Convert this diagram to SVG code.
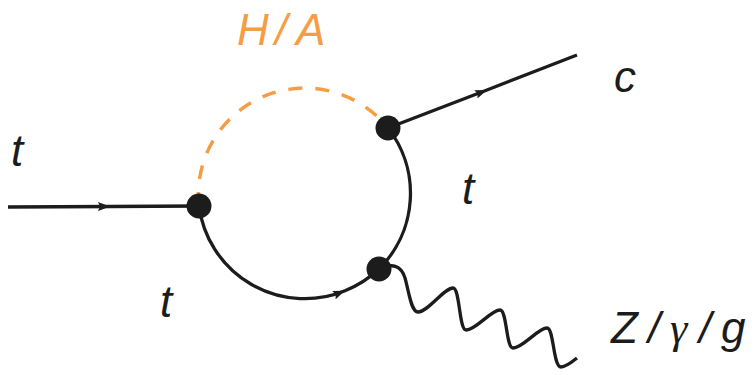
<svg xmlns="http://www.w3.org/2000/svg" width="755" height="375" viewBox="0 0 755 375">
  <style>
    .fermion { fill: none; stroke: #1c1c1c; stroke-width: 3.3; }
    .scalar { fill: none; stroke: #F59D45; stroke-width: 3.5; stroke-dasharray: 14 13; }
    .boson { fill: none; stroke: #1c1c1c; stroke-width: 3.3; stroke-linejoin: round; }
    .vertex { fill: #1c1c1c; }
    .lbl { font-family: "Liberation Sans", Arial, sans-serif; font-style: italic; font-size: 44px; fill: #1c1c1c; }
    .lbl-or { font-family: "Liberation Sans", Arial, sans-serif; font-style: italic; font-size: 44px; fill: #F59D45; }
    .greek { font-family: "Liberation Serif", "Times New Roman", serif; font-style: italic; }
  </style>
  <defs>
    <marker id="arr" viewBox="0 0 12 9" refX="12" refY="4.5" markerWidth="12" markerHeight="9" markerUnits="userSpaceOnUse" orient="auto">
      <path d="M0,0 L12,4.5 L0,9 L2,4.5 z" fill="#1c1c1c"/>
    </marker>
  </defs>
  <rect width="755" height="375" fill="#ffffff"/>
  <g id="connectors">
    <path id="t-in" class="fermion" d="M8,207 L110,206.5 L199,206" marker-mid="url(#arr)"/>
    <path id="higgs-loop" class="scalar" d="M199,206 A106.5,106.5 0 0 1 388,128"/>
    <path id="t-loop-right" class="fermion" d="M388,128 A106.5,106.5 0 0 1 379,269"/>
    <path id="t-loop-bottom" class="fermion" d="M199,206 A106.5,106.5 0 0 0 345,290.7 A106.5,106.5 0 0 0 379,269" marker-mid="url(#arr)"/>
    <path id="c-out" class="fermion" d="M388,128 L487,90 L577,55" marker-mid="url(#arr)"/>
    <path id="boson-out" class="boson" d="M379,269 C392,263 401,265 405,278 C409,292 411,312 418,312 C428,312 444,288 453,288 C460,288 459,330 466,330 C476,330 491,310 500,310 C507,310 506,348 513,348 C523,348 538,328 547,328 C554,328 553,367 561,367 C566,367 572,362 577,358"/>
  </g>
  <g id="vertex-left"><circle class="vertex" cx="199" cy="206" r="12.5"/></g>
  <g id="vertex-top"><circle class="vertex" cx="388" cy="128" r="12.5"/></g>
  <g id="vertex-bottom"><circle class="vertex" cx="379" cy="269" r="12.5"/></g>
  <g id="labels">
    <text class="lbl" x="11" y="166">t</text>
    <text class="lbl-or" y="45"><tspan x="237">H</tspan><tspan x="275">/</tspan><tspan x="296">A</tspan></text>
    <text class="lbl" x="614" y="92">c</text>
    <text class="lbl" x="462" y="204">t</text>
    <text class="lbl" x="160" y="317">t</text>
    <text class="lbl" y="343"><tspan x="611">Z</tspan><tspan x="648">/</tspan><tspan class="greek" x="670">γ</tspan><tspan x="699">/</tspan><tspan x="721">g</tspan></text>
  </g>
</svg>
